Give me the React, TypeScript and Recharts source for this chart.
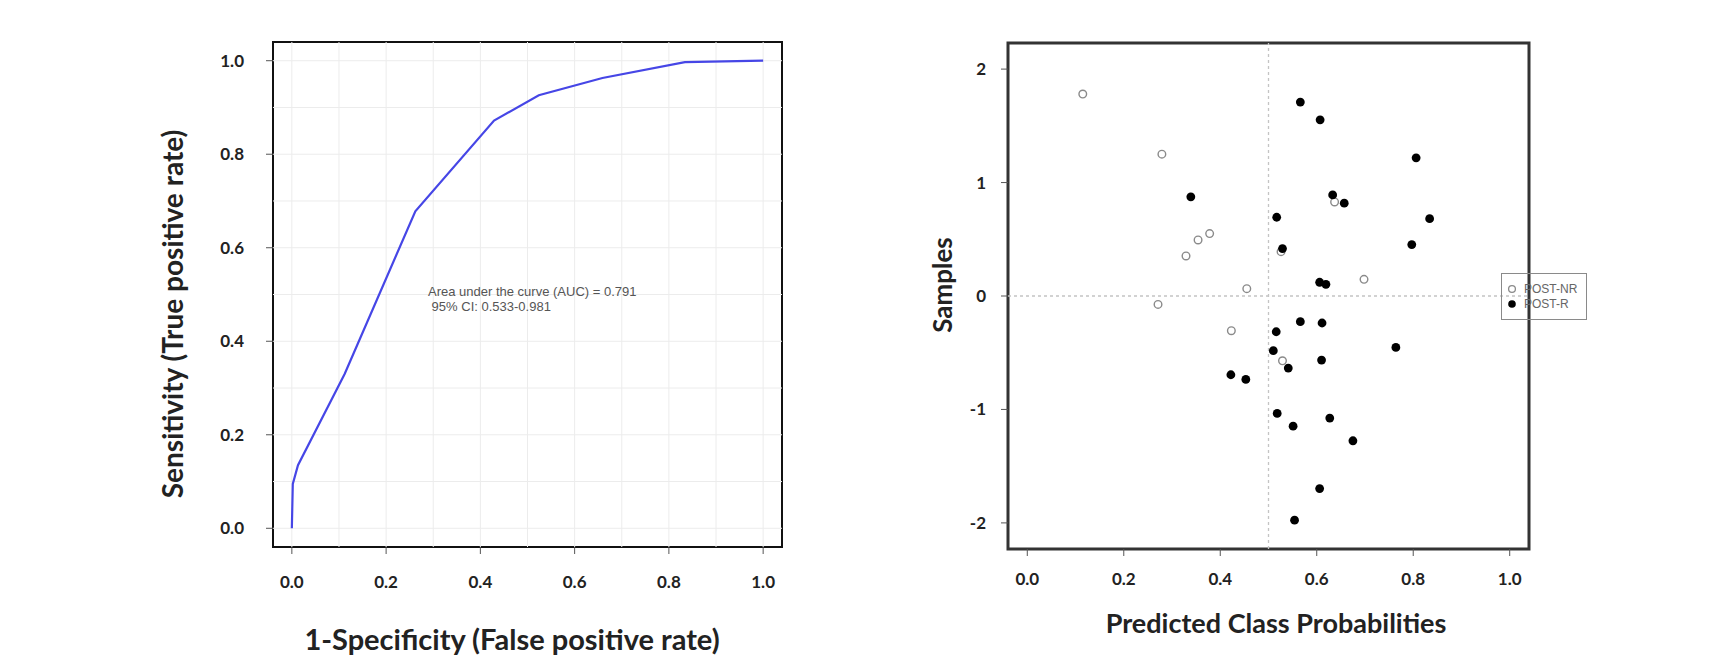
import React from 'react';
import {
  LineChart, Line, XAxis, YAxis, ReferenceLine, ReferenceArea,
  ScatterChart, Scatter, Legend,
} from 'recharts';

// ---------- ROC curve data ----------
const rocFpr = [0, 0.002, 0.013, 0.112, 0.262, 0.429, 0.524, 0.659, 0.834, 1.0];
const rocTpr = [0, 0.095, 0.135, 0.33, 0.678, 0.872, 0.926, 0.963, 0.997, 1.0];
const rocTicks = [0, 0.2, 0.4, 0.6, 0.8, 1.0];
const rocGrid = [0, 0.1, 0.2, 0.3, 0.4, 0.5, 0.6, 0.7, 0.8, 0.9, 1.0];
const aucLines = ['Area under the curve (AUC) = 0.791', ' 95% CI: 0.533-0.981'];

// ---------- Predicted class probabilities ----------
const nrProb = [0.115, 0.279, 0.378, 0.354, 0.329, 0.455, 0.271, 0.423, 0.529, 0.637, 0.526, 0.698];
const nrSample = [1.78, 1.25, 0.55, 0.494, 0.353, 0.065, -0.074, -0.306, -0.571, 0.829, 0.391, 0.147];
const rProb = [0.566, 0.607, 0.806, 0.339, 0.633, 0.657, 0.517, 0.834, 0.797, 0.529, 0.606, 0.619, 0.566, 0.611, 0.516, 0.764, 0.51, 0.61, 0.541, 0.422, 0.453, 0.518, 0.627, 0.551, 0.675, 0.606, 0.554];
const rSample = [1.709, 1.553, 1.218, 0.874, 0.891, 0.818, 0.694, 0.682, 0.453, 0.418, 0.121, 0.103, -0.226, -0.238, -0.315, -0.453, -0.482, -0.565, -0.635, -0.694, -0.735, -1.035, -1.076, -1.147, -1.276, -1.697, -1.976];
const probTicks = [0, 0.2, 0.4, 0.6, 0.8, 1.0];
const sampleTicks = [-2, -1, 0, 1, 2];
const probThreshold = [0.5];
const sampleZero = [0];
const seriesNames = ['POST-NR', 'POST-R'];

const rocData = rocFpr.map((f, i) => ({ fpr: f, tpr: rocTpr[i] }));
const nrData = nrProb.map((p, i) => ({ p, s: nrSample[i] }));
const rData = rProb.map((p, i) => ({ p, s: rSample[i] }));

const TITLE_FONT = 'Lato, "Open Sans", sans-serif';
const tickStyle = { fontFamily: TITLE_FONT, fontWeight: 700, fontSize: 17, fill: '#222' };

const OpenDot = (props: any) => (
  <circle cx={props.cx} cy={props.cy} r={3.8} fill="none" stroke="#8a8a8a" strokeWidth={1.4} />
);
const FilledDot = (props: any) => (
  <circle cx={props.cx} cy={props.cy} r={4.4} fill="#000" />
);

const LegendBox = () => (
  <svg width={86} height={47} style={{ display: 'block' }}>
    <rect x={0.5} y={0.5} width={85} height={46} fill="none" stroke="#8a8a8a" strokeWidth={1} />
    <circle cx={11} cy={16} r={3.4} fill="none" stroke="#8a8a8a" strokeWidth={1.3} />
    <text x={23} y={20} fontFamily="'Liberation Sans', Arial, sans-serif" fontSize={12} fill="#666">{seriesNames[0]}</text>
    <circle cx={11} cy={31} r={3.8} fill="#000" />
    <text x={23} y={35} fontFamily="'Liberation Sans', Arial, sans-serif" fontSize={12} fill="#666">{seriesNames[1]}</text>
  </svg>
);

const titleStyle: React.CSSProperties = {
  position: 'absolute',
  fontFamily: TITLE_FONT,
  fontWeight: 700,
  fontSize: 26,
  color: '#222',
  whiteSpace: 'nowrap',
  lineHeight: 1,
};

export default function App() {
  return (
    <div style={{ position: 'absolute', left: 0, top: 0, width: 1715, height: 664, background: '#fff', overflow: 'hidden' }}>
      {/* Left: ROC curve */}
      <div style={{ position: 'absolute', left: 0, top: 0 }}>
        <LineChart width={850} height={664} data={rocData} margin={{ top: 42, right: 68, bottom: 77, left: 213 }}>
          <XAxis
            type="number" dataKey="fpr" domain={[-0.04, 1.04]} ticks={rocTicks} allowDataOverflow
            axisLine={false} tickLine={{ stroke: '#555' }} tickSize={7} tickMargin={22} height={40}
            tick={tickStyle} tickFormatter={(v: number) => v.toFixed(1)} interval={0}
          />
          <YAxis
            type="number" dataKey="tpr" domain={[-0.04, 1.04]} ticks={rocTicks} allowDataOverflow
            axisLine={false} tickLine={{ stroke: '#555' }} tickSize={7} tickMargin={22} width={60}
            tick={tickStyle} tickFormatter={(v: number) => v.toFixed(1)} interval={0}
          />
          {rocGrid.map((v) => (
            <ReferenceLine key={'gx' + v} x={v} stroke="#ececec" strokeWidth={1} />
          ))}
          {rocGrid.map((v) => (
            <ReferenceLine key={'gy' + v} y={v} stroke="#ececec" strokeWidth={1} />
          ))}
          <ReferenceArea x1={-0.04} x2={1.04} y1={-0.04} y2={1.04} fill="none" fillOpacity={0} stroke="#111" strokeWidth={2} ifOverflow="visible" />
          <Line type="linear" dataKey="tpr" stroke="#4646e6" strokeWidth={2.2} dot={false} isAnimationActive={false} />
        </LineChart>
      </div>
      <div style={{ position: 'absolute', left: 428, top: 284, fontFamily: "'Liberation Sans', Arial, sans-serif", fontSize: 13, lineHeight: '15px', color: '#555', whiteSpace: 'pre' }}>
        {aucLines.map((l) => (<div key={l}>{l}</div>))}
      </div>
      <div style={{ ...titleStyle, fontSize: 29, left: 512, top: 638, transform: 'translate(-50%, -50%)' }}>1-Specificity (False positive rate)</div>
      <div style={{ ...titleStyle, fontSize: 28, left: 172, top: 314, transform: 'translate(-50%, -50%) rotate(-90deg)' }}>Sensitivity (True positive rate)</div>

      {/* Right: predicted class probabilities */}
      <div style={{ position: 'absolute', left: 870, top: 0 }}>
        <ScatterChart width={845} height={664} margin={{ top: 43, right: 186, bottom: 75, left: 78 }}>
          <XAxis
            type="number" dataKey="p" domain={[-0.04, 1.04]} ticks={probTicks} allowDataOverflow
            axisLine={false} tickLine={{ stroke: '#555' }} tickSize={7} tickMargin={17} height={40}
            tick={tickStyle} tickFormatter={(v: number) => v.toFixed(1)} interval={0}
          />
          <YAxis
            type="number" dataKey="s" domain={[-2.23, 2.23]} ticks={sampleTicks} allowDataOverflow
            axisLine={false} tickLine={{ stroke: '#555' }} tickSize={7} tickMargin={15} width={60}
            tick={tickStyle} interval={0}
          />
          {probThreshold.map((v) => (
            <ReferenceLine key={'t' + v} x={v} stroke="#c4c4c4" strokeWidth={1.3} strokeDasharray="3 3" />
          ))}
          {sampleZero.map((v) => (
            <ReferenceLine key={'z' + v} y={v} stroke="#c4c4c4" strokeWidth={1.3} strokeDasharray="3 3" />
          ))}
          <ReferenceArea x1={-0.04} x2={1.04} y1={-2.23} y2={2.23} fill="none" fillOpacity={0} stroke="#333" strokeWidth={3} ifOverflow="visible" />
          <Scatter name={seriesNames[0]} data={nrData} shape={OpenDot} isAnimationActive={false} />
          <Scatter name={seriesNames[1]} data={rData} shape={FilledDot} isAnimationActive={false} />
          <Legend
            layout="vertical" align="center" verticalAlign="middle"
            wrapperStyle={{ position: 'absolute', left: 631, top: 273, width: 86, height: 47 }}
            content={() => <LegendBox />}
          />
        </ScatterChart>
      </div>
      <div style={{ ...titleStyle, fontSize: 27, left: 1276, top: 622, transform: 'translate(-50%, -50%)' }}>Predicted Class Probabilities</div>
      <div style={{ ...titleStyle, left: 942, top: 285, transform: 'translate(-50%, -50%) rotate(-90deg)' }}>Samples</div>
    </div>
  );
}
